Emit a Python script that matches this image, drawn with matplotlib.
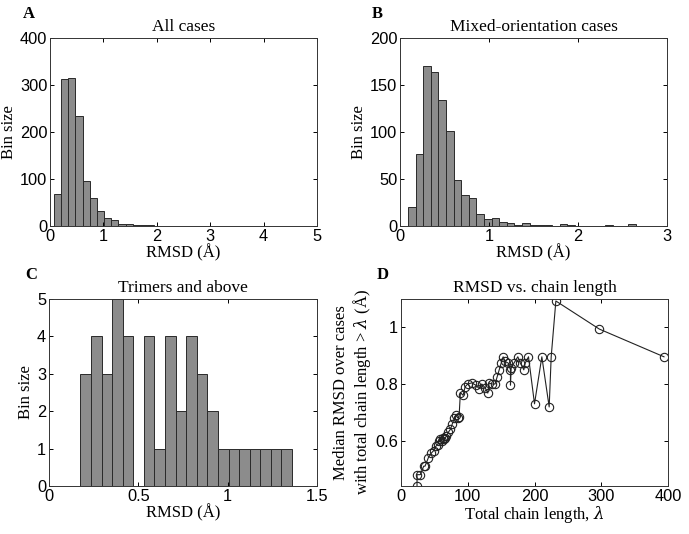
import numpy as np
import matplotlib
matplotlib.use("Agg")
import matplotlib.pyplot as plt
from matplotlib.ticker import FormatStrFormatter

# Panel A: all cases, 30 bins
a_range = (0.075, 4.10)
a_counts = [68, 313, 315, 235, 96, 60, 31, 18, 13, 5, 4, 2, 2, 2, 1,
            0, 1, 0, 1, 1, 0, 0, 0, 0, 0, 0, 0, 0, 0, 1]

# Panel B: mixed-orientation cases, 30 bins
b_range = (0.09, 2.65)
b_counts = [20, 77, 170, 164, 134, 101, 49, 33, 30, 13, 7, 9, 4, 3, 1,
            3, 1, 1, 1, 0, 2, 1, 0, 0, 0, 0, 1, 0, 0, 2]

# Panel C: trimers and above, 20 bins
c_range = (0.176, 1.36)
c_counts = [3, 4, 3, 5, 4, 0, 4, 1, 4, 2, 4, 3, 2, 1, 1, 1, 1, 1, 1, 1]

# Panel D: median RMSD vs chain length
d_length = [24, 24, 29, 34, 36, 41, 45, 49, 52, 55, 57, 59, 61, 63, 65, 66,
            68, 71, 74, 77, 80, 82, 85, 87, 89, 93, 96, 100, 106, 112, 117,
            121, 126, 130, 132, 136, 141, 144, 147, 150, 153, 156, 161, 164,
            164, 165, 169, 175, 179, 184, 186, 191, 200, 211, 222, 225, 232,
            297, 394]
d_median = [0.44, 0.48, 0.48, 0.51, 0.51, 0.54, 0.555, 0.565, 0.58, 0.585,
            0.60, 0.605, 0.60, 0.61, 0.605, 0.61, 0.615, 0.63, 0.64, 0.66,
            0.68, 0.69, 0.68, 0.685, 0.77, 0.76, 0.79, 0.80, 0.804, 0.796,
            0.784, 0.80, 0.787, 0.768, 0.804, 0.80, 0.80, 0.825, 0.849,
            0.873, 0.896, 0.88, 0.873, 0.85, 0.796, 0.855, 0.873, 0.896,
            0.873, 0.85, 0.873, 0.896, 0.73, 0.896, 0.719, 0.896, 1.093,
            0.994, 0.896]

serif = ["Liberation Serif", "DejaVu Serif"]
sans = ["Liberation Sans", "DejaVu Sans"]
plt.rcParams["font.family"] = sans
plt.rcParams["mathtext.fontset"] = "dejavuserif"
plt.rcParams["xtick.direction"] = "in"
plt.rcParams["ytick.direction"] = "in"
plt.rcParams["xtick.top"] = True
plt.rcParams["ytick.right"] = True
plt.rcParams["xtick.major.size"] = 3
plt.rcParams["ytick.major.size"] = 3
plt.rcParams["axes.linewidth"] = 0.7
plt.rcParams["axes.edgecolor"] = "#333333"

fig = plt.figure(figsize=(6.89, 5.34), dpi=100)
W, H = 689, 534


def add_axes(left, top, right, bottom):
    return fig.add_axes([left / W, 1 - bottom / H, (right - left) / W, (bottom - top) / H])


ax_a = add_axes(50, 38, 317, 226)
ax_b = add_axes(400, 38, 667, 226)
ax_c = add_axes(49, 299, 317, 486)
ax_d = add_axes(401, 299, 668, 486)


def hist_panel(ax, rng, counts):
    edges = np.linspace(rng[0], rng[1], len(counts) + 1)
    ax.bar(edges[:-1], counts, width=np.diff(edges), align="edge",
           color="#8c8c8c", edgecolor="#2a2a2a", linewidth=0.7)
    ax.set_ylabel("Bin size", fontfamily=serif, fontsize=12, labelpad=2)
    ax.set_xlabel("RMSD (Å)", fontfamily=serif, fontsize=12, labelpad=0)


hist_panel(ax_a, a_range, a_counts)
ax_a.set_xlim(0, 5)
ax_a.set_ylim(0, 400)
ax_a.set_yticks([0, 100, 200, 300, 400])
ax_a.set_title("All cases", fontfamily=serif, fontsize=12.5, pad=5)

hist_panel(ax_b, b_range, b_counts)
ax_b.set_xlim(0, 3)
ax_b.set_ylim(0, 200)
ax_b.set_yticks([0, 50, 100, 150, 200])
ax_b.set_title("Mixed-orientation cases", fontfamily=serif, fontsize=12.5, pad=5)

hist_panel(ax_c, c_range, c_counts)
ax_c.set_xlim(0, 1.5)
ax_c.set_ylim(0, 5)
ax_c.set_xticks([0, 0.5, 1, 1.5])
ax_c.xaxis.set_major_formatter(FormatStrFormatter("%g"))
ax_c.set_title("Trimers and above", fontfamily=serif, fontsize=12.5, pad=5)

ax_d.plot(d_length, d_median, color="#222222", linewidth=0.8, marker="o",
          markersize=6, markerfacecolor="none", markeredgecolor="#222222",
          markeredgewidth=0.8)
ax_d.set_xlim(0, 400)
ax_d.set_ylim(0.44, 1.1)
ax_d.set_xticks([0, 100, 200, 300, 400])
ax_d.set_yticks([0.6, 0.8, 1])
ax_d.yaxis.set_major_formatter(FormatStrFormatter("%g"))
ax_d.set_title("RMSD vs. chain length", fontfamily=serif, fontsize=12.5, pad=5)
ax_d.set_xlabel("Total chain length, $\\lambda$", fontfamily=serif, fontsize=12, labelpad=0)
ax_d.set_ylabel("Median RMSD over cases\nwith total chain length > $\\lambda$ (Å)",
                fontfamily=serif, fontsize=12, labelpad=2, linespacing=1.1)

for ax in (ax_a, ax_b, ax_c, ax_d):
    ax.tick_params(labelsize=11.8, pad=2, width=0.7)

for letter, (x, y) in zip("ABCD", [(23, 18), (372, 18), (25, 279), (377, 279)]):
    fig.text(x / W, 1 - y / H, letter, fontfamily=serif, fontsize=12,
             fontweight="bold")

fig.savefig("out.png", dpi=100)
